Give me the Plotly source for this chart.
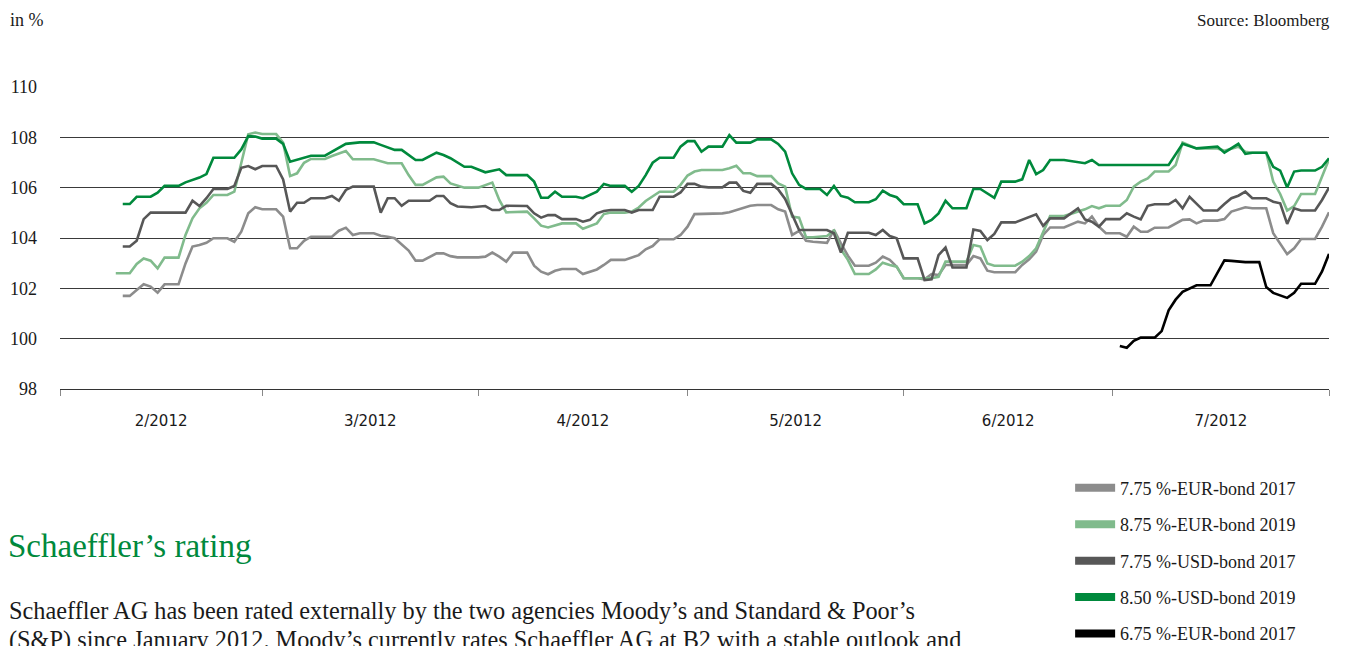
import pandas as pd
import plotly.graph_objects as go

START = "2012-02-01"  # day 0 of the observation day counters below

# 7.75 %-EUR-bond 2017
eur17_day = [9, 10, 11, 12, 13, 14, 15, 17, 18, 19,
             20, 21, 22, 24, 25, 26, 27, 28, 29, 31,
             32, 33, 34, 35, 36, 39, 40, 41, 42, 43,
             45, 46, 47, 48, 50, 51, 52, 53, 54, 55,
             56, 57, 60, 61, 62, 63, 64, 65, 67, 68,
             69, 70, 71, 72, 74, 75, 76, 77, 78, 79,
             81, 82, 83, 84, 85, 86, 88, 89, 90, 91,
             95, 96, 97, 98, 99, 100, 102, 103, 104, 105,
             106, 107, 108, 110, 111, 112, 113, 114, 116, 117,
             118, 119, 120, 121, 123, 124, 125, 126, 127, 130,
             131, 132, 133, 134, 137, 138, 139, 140, 141, 142,
             144, 146, 147, 148, 149, 150, 152, 153, 154, 155,
             156, 157, 159, 161, 162, 163, 164, 166, 167, 168,
             170, 171, 173, 174, 175, 176, 177, 178, 180, 181,
             182]
eur17_val = [101.70, 101.70, 101.93, 102.16, 102.07, 101.83, 102.16, 102.16, 102.99, 103.66,
             103.72, 103.81, 103.99, 103.99, 103.85, 104.25, 104.98, 105.22, 105.14, 105.14,
             104.85, 103.59, 103.59, 103.89, 104.05, 104.05, 104.29, 104.41, 104.12, 104.19,
             104.19, 104.09, 104.05, 103.99, 103.50, 103.10, 103.10, 103.23, 103.39, 103.39,
             103.28, 103.23, 103.23, 103.26, 103.42, 103.26, 103.06, 103.42, 103.42, 102.90,
             102.66, 102.56, 102.70, 102.77, 102.77, 102.57, 102.66, 102.75, 102.93, 103.13,
             103.13, 103.22, 103.32, 103.55, 103.68, 103.95, 103.95, 104.12, 104.45, 104.95,
             104.98, 105.02, 105.11, 105.22, 105.28, 105.31, 105.31, 105.14, 105.05, 104.12,
             104.28, 103.89, 103.85, 103.81, 104.32, 103.79, 103.30, 102.90, 102.90, 103.02,
             103.26, 103.13, 102.86, 102.40, 102.40, 102.36, 102.57, 102.53, 102.93, 102.93,
             103.28, 103.19, 102.70, 102.64, 102.64, 102.93, 103.15, 103.46, 104.12, 104.42,
             104.42, 104.65, 104.58, 104.85, 104.45, 104.19, 104.19, 104.05, 104.45, 104.25,
             104.25, 104.41, 104.42, 104.72, 104.74, 104.58, 104.69, 104.69, 104.75, 105.05,
             105.22, 105.18, 105.18, 104.19, 103.79, 103.36, 103.59, 103.96, 103.96, 104.45,
             105.02]

# 8.75 %-EUR-bond 2019
eur19_day = [8, 10, 11, 12, 13, 14, 15, 17, 18, 19,
             20, 21, 22, 24, 25, 26, 27, 28, 29, 31,
             32, 33, 34, 35, 36, 38, 39, 41, 42, 45,
             47, 49, 50, 51, 52, 53, 54, 55, 56, 58,
             60, 62, 63, 64, 67, 68, 69, 70, 72, 74,
             75, 77, 78, 79, 81, 82, 83, 84, 85, 86,
             88, 89, 90, 91, 92, 95, 96, 97, 98, 99,
             100, 102, 103, 104, 105, 106, 107, 108, 110, 111,
             112, 113, 114, 116, 117, 118, 119, 120, 121, 125,
             126, 127, 130, 131, 132, 133, 134, 137, 138, 139,
             140, 141, 142, 144, 146, 147, 148, 149, 150, 152,
             153, 154, 155, 156, 157, 159, 160, 161, 163, 166,
             167, 169, 170, 171, 173, 174, 175, 176, 177, 178,
             180, 181, 182]
eur19_val = [102.60, 102.60, 102.97, 103.19, 103.10, 102.79, 103.22, 103.22, 104.12, 104.78,
             105.18, 105.40, 105.71, 105.71, 105.84, 106.97, 108.12, 108.19, 108.13, 108.13,
             107.79, 106.46, 106.57, 106.99, 107.14, 107.14, 107.26, 107.46, 107.13, 107.13,
             106.97, 106.97, 106.50, 106.11, 106.11, 106.26, 106.41, 106.44, 106.17, 106.00,
             106.00, 106.20, 105.51, 105.02, 105.05, 104.78, 104.49, 104.42, 104.58, 104.58,
             104.37, 104.58, 104.95, 105.01, 105.01, 105.05, 105.21, 105.47, 105.64, 105.84,
             105.84, 106.11, 106.48, 106.64, 106.70, 106.70, 106.77, 106.87, 106.57, 106.57,
             106.46, 106.46, 106.17, 106.04, 104.85, 104.81, 104.03, 104.03, 104.08, 104.29,
             103.55, 103.13, 102.57, 102.57, 102.75, 103.02, 102.93, 102.86, 102.40, 102.40,
             102.46, 103.06, 103.06, 103.72, 103.66, 102.99, 102.90, 102.90, 103.06, 103.28,
             103.59, 104.25, 104.87, 104.87, 105.05, 105.14, 105.27, 105.18, 105.28, 105.28,
             105.51, 106.04, 106.24, 106.37, 106.64, 106.64, 106.90, 107.79, 107.56, 107.56,
             107.47, 107.63, 107.43, 107.39, 107.39, 106.24, 105.75, 105.09, 105.27, 105.75,
             105.75, 106.44, 107.13]

# 7.75 %-USD-bond 2017
usd17_day = [9, 10, 11, 12, 13, 18, 19, 20, 21, 22,
             24, 25, 26, 27, 28, 29, 31, 32, 33, 34,
             35, 36, 38, 39, 40, 41, 42, 45, 46, 47,
             48, 49, 50, 53, 54, 55, 56, 57, 59, 61,
             62, 63, 64, 67, 68, 69, 70, 71, 72, 74,
             75, 76, 77, 78, 79, 81, 82, 83, 85, 86,
             88, 89, 90, 91, 92, 93, 95, 96, 97, 98,
             99, 100, 102, 103, 104, 105, 106, 110, 111, 112,
             113, 116, 117, 118, 119, 120, 121, 123, 124, 125,
             126, 127, 128, 130, 131, 132, 133, 134, 135, 137,
             138, 140, 141, 142, 144, 146, 147, 148, 149, 150,
             152, 153, 154, 155, 156, 157, 159, 160, 161, 162,
             164, 166, 167, 168, 169, 170, 171, 173, 174, 175,
             176, 177, 178, 180, 181, 182]
usd17_val = [103.66, 103.66, 103.89, 104.75, 105.01, 105.01, 105.48, 105.27, 105.58, 105.95,
             105.95, 106.07, 106.79, 106.86, 106.73, 106.86, 106.86, 106.33, 105.05, 105.40,
             105.40, 105.58, 105.58, 105.67, 105.48, 105.91, 106.04, 106.04, 105.01, 105.58,
             105.58, 105.28, 105.48, 105.48, 105.67, 105.67, 105.38, 105.25, 105.22, 105.27,
             105.11, 105.11, 105.28, 105.27, 104.98, 104.81, 104.91, 104.91, 104.75, 104.75,
             104.65, 104.72, 104.98, 105.07, 105.11, 105.11, 105.01, 105.11, 105.11, 105.64,
             105.64, 105.81, 106.15, 106.15, 106.04, 106.01, 106.01, 106.20, 106.20, 105.87,
             105.80, 106.15, 106.15, 105.93, 105.55, 104.95, 104.32, 104.32, 104.19, 103.42,
             104.21, 104.21, 104.12, 104.32, 104.08, 103.99, 103.19, 103.19, 102.33, 102.36,
             103.32, 103.62, 102.83, 102.83, 104.34, 104.28, 103.92, 104.16, 104.62, 104.62,
             104.72, 104.94, 104.48, 104.78, 104.78, 105.18, 104.74, 104.65, 104.45, 104.75,
             104.75, 104.98, 104.85, 104.74, 105.28, 105.34, 105.34, 105.51, 105.18, 105.64,
             105.09, 105.09, 105.35, 105.58, 105.68, 105.84, 105.58, 105.58, 105.44, 105.38,
             104.56, 105.18, 105.09, 105.09, 105.51, 106.00]

# 8.50 %-USD-bond 2019
usd19_day = [9, 10, 11, 13, 14, 15, 17, 18, 20, 21,
             22, 25, 26, 27, 28, 29, 31, 32, 33, 34,
             36, 38, 39, 40, 41, 43, 45, 46, 48, 49,
             50, 51, 52, 54, 55, 56, 58, 59, 61, 63,
             64, 67, 68, 69, 70, 71, 72, 74, 75, 77,
             78, 79, 81, 82, 83, 84, 85, 86, 88, 89,
             90, 91, 92, 93, 95, 96, 97, 99, 100, 102,
             103, 104, 105, 106, 107, 109, 110, 111, 112, 113,
             114, 116, 117, 118, 119, 120, 121, 123, 124, 125,
             126, 127, 128, 130, 131, 132, 134, 135, 137, 138,
             139, 140, 141, 142, 144, 146, 147, 148, 149, 159,
             161, 163, 166, 167, 169, 170, 171, 173, 174, 175,
             176, 177, 178, 180, 181, 182]
usd19_val = [105.35, 105.35, 105.64, 105.64, 105.80, 106.07, 106.07, 106.21, 106.40, 106.54,
             107.19, 107.19, 107.52, 108.05, 108.03, 107.95, 107.95, 107.74, 107.03, 107.12,
             107.27, 107.27, 107.43, 107.56, 107.74, 107.80, 107.80, 107.70, 107.50, 107.50,
             107.30, 107.10, 107.10, 107.39, 107.30, 107.17, 106.83, 106.83, 106.61, 106.73,
             106.50, 106.50, 106.24, 105.60, 105.60, 105.84, 105.64, 105.64, 105.58, 105.84,
             106.15, 106.07, 106.07, 105.84, 106.07, 106.50, 106.99, 107.19, 107.19, 107.63,
             107.85, 107.85, 107.43, 107.63, 107.63, 108.09, 107.79, 107.79, 107.92, 107.92,
             107.74, 107.43, 106.57, 106.11, 105.95, 105.95, 105.71, 106.07, 105.67, 105.60,
             105.42, 105.42, 105.54, 105.88, 105.71, 105.62, 105.34, 105.34, 104.58, 104.72,
             104.98, 105.48, 105.18, 105.18, 105.95, 105.95, 105.60, 106.24, 106.24, 106.33,
             107.10, 106.54, 106.70, 107.10, 107.10, 107.01, 106.97, 107.10, 106.90, 106.90,
             107.74, 107.56, 107.63, 107.39, 107.74, 107.34, 107.39, 107.39, 106.83, 106.68,
             106.01, 106.64, 106.68, 106.68, 106.83, 107.17]

# 6.75 %-EUR-bond 2017
eur17b_day = [152, 153, 154, 155, 157, 158, 159, 160, 161, 163,
              165, 166, 167, 168, 170, 172, 173, 174, 176, 177,
              178, 180, 181, 182]
eur17b_val = [99.71, 99.64, 99.91, 100.04, 100.04, 100.30, 101.13, 101.55, 101.86, 102.12,
              102.12, 102.61, 103.11, 103.09, 103.04, 103.04, 102.05, 101.82, 101.62, 101.82,
              102.18, 102.18, 102.67, 103.37]

series_names = ["7.75 %-EUR-bond 2017", "8.75 %-EUR-bond 2019", "7.75 %-USD-bond 2017",
                "8.50 %-USD-bond 2019", "6.75 %-EUR-bond 2017"]
series_days = [eur17_day, eur19_day, usd17_day, usd19_day, eur17b_day]
series_vals = [eur17_val, eur19_val, usd17_val, usd19_val, eur17b_val]
series_colors = ["#8c8c8c", "#80bb8c", "#575757", "#00893c", "#000000"]

y_ticks = [98, 100, 102, 104, 106, 108, 110]

TEXT = "#1a1a1a"
SERIF = "Liberation Serif"

fig = go.Figure()
start = pd.Timestamp(START)
for name, days, vals, col in zip(series_names, series_days, series_vals, series_colors):
    assert len(days) == len(vals), name
    dates = start + pd.to_timedelta(days, unit="D")
    fig.add_trace(go.Scatter(x=dates, y=vals, mode="lines", name=name,
                             line=dict(color=col, width=2.6), showlegend=False,
                             hoverinfo="skip"))
# legend entries with the thick swatch look
for i, (name, col) in enumerate(zip(series_names, series_colors)):
    fig.add_trace(go.Scatter(x=[None], y=[None], mode="lines", name=name,
                             line=dict(color=col, width=8), legendgroup=f"g{i}",
                             showlegend=True))

fig.update_layout(
    width=1347, height=646,
    margin=dict(l=60, r=18, t=87, b=257, autoexpand=False),
    paper_bgcolor="white", plot_bgcolor="white",
    font=dict(family=SERIF, color=TEXT, size=18),
    legend=dict(x=0.796, y=-0.267, xanchor="left", yanchor="top",
                font=dict(family=SERIF, size=18, color=TEXT),
                traceorder="grouped", tracegroupgap=10, itemwidth=40,
                bgcolor="rgba(0,0,0,0)"),
    xaxis=dict(type="date", range=["2012-02-01", "2012-08-01"],
               tick0="2012-02-01", dtick="M1", ticklabelmode="period",
               tickformat="%-m/%Y", ticks="outside", ticklen=6, tickcolor="#888",
               showline=True, linecolor="#333", linewidth=1, showgrid=False,
               zeroline=False, ticklabelstandoff=12,
               tickfont=dict(family="DejaVu Sans", size=15, color=TEXT)),
    yaxis=dict(range=[98, 110], tickvals=y_ticks, showgrid=True, gridcolor="#3a3a3a",
               gridwidth=1, zeroline=False, showline=False, ticks="",
               ticklabelstandoff=22,
               tickfont=dict(family=SERIF, size=18, color=TEXT)),
)

def px_x(px):
    return (px - 60) / 1269.0

def px_y(py):
    return (389 - py) / 302.0

fig.add_annotation(text="in %", xref="paper", yref="paper", x=px_x(8), y=px_y(20),
                   xanchor="left", yanchor="middle", showarrow=False,
                   font=dict(family=SERIF, size=18, color=TEXT))
fig.add_annotation(text="Source: Bloomberg", xref="paper", yref="paper", x=px_x(1332), y=px_y(20),
                   xanchor="right", yanchor="middle", showarrow=False,
                   font=dict(family=SERIF, size=17, color=TEXT))
fig.add_annotation(text="Schaeffler’s rating", xref="paper", yref="paper", x=px_x(6), y=px_y(546),
                   xanchor="left", yanchor="middle", showarrow=False,
                   font=dict(family=SERIF, size=33, color="#00893c"))
fig.add_annotation(text="Schaeffler AG has been rated externally by the two agencies Moody’s and Standard &amp; Poor’s",
                   xref="paper", yref="paper", x=px_x(7), y=px_y(610),
                   xanchor="left", yanchor="middle", showarrow=False,
                   font=dict(family=SERIF, size=24.3, color=TEXT))
fig.add_annotation(text="(S&amp;P) since January 2012. Moody’s currently rates Schaeffler AG at B2 with a stable outlook and",
                   xref="paper", yref="paper", x=px_x(7), y=px_y(640),
                   xanchor="left", yanchor="middle", showarrow=False,
                   font=dict(family=SERIF, size=24.3, color=TEXT))

fig.write_html("out.html", config={"displayModeBar": False},
               post_script="document.body.style.margin='0';document.body.style.overflow='hidden';")
